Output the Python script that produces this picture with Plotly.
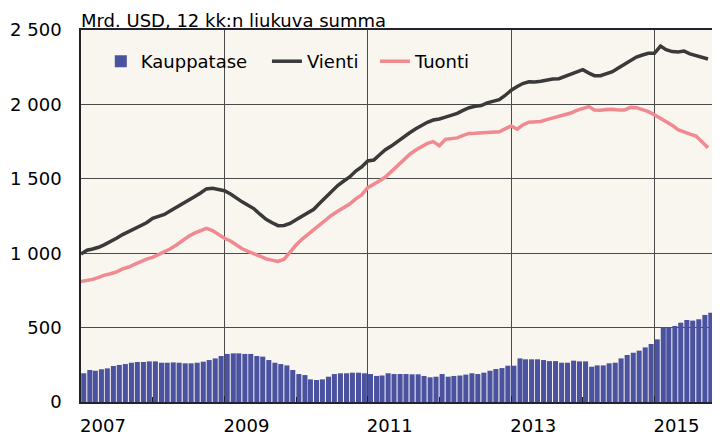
import pandas as pd
import plotly.graph_objects as go

# Monthly data, Jan 2007 .. Oct 2015 (Mrd. USD, 12-month rolling sum)
months = pd.date_range("2007-01-01", periods=106, freq="MS")

vienti = [
    995, 1020, 1028, 1040, 1058, 1077, 1100, 1125, 1145, 1165, 1185, 1205,
    1235, 1248, 1260, 1285, 1310, 1330, 1358, 1380, 1405, 1432, 1436, 1430,
    1420, 1398, 1370, 1345, 1322, 1298, 1262, 1228, 1205, 1185, 1186, 1200,
    1225, 1250, 1268, 1295, 1335, 1375, 1418, 1455, 1485, 1512, 1552, 1580,
    1620, 1626, 1660, 1695, 1720, 1750, 1783, 1808, 1835, 1858, 1880, 1895,
    1902, 1915, 1928, 1940, 1960, 1978, 1987, 1992, 2010, 2023, 2032, 2060,
    2095, 2120, 2140, 2152, 2150, 2155, 2163, 2170, 2173, 2188, 2203, 2220,
    2233, 2210, 2193, 2193, 2205, 2220, 2245, 2268, 2295, 2318, 2332, 2343,
    2343, 2392, 2368, 2355, 2352, 2358, 2340, 2328, 2318, 2305,
]

tuonti = [
    810, 815, 824, 838, 853, 862, 875, 895, 907, 925, 945, 960,
    972, 990, 1008, 1030, 1055, 1085, 1112, 1135, 1152, 1167, 1152, 1125,
    1100, 1082, 1055, 1030, 1012, 998, 980, 962, 952, 945, 960, 1010,
    1055, 1095, 1125, 1160, 1190, 1225, 1255, 1282, 1308, 1330, 1365, 1392,
    1440, 1462, 1485, 1512, 1550, 1590, 1630, 1662, 1692, 1718, 1738, 1750,
    1722, 1765, 1770, 1775, 1792, 1805, 1806, 1808, 1812, 1814, 1816, 1835,
    1855, 1833, 1862, 1880, 1880, 1885, 1898, 1910, 1918, 1930, 1942, 1960,
    1975, 1985, 1962, 1960, 1965, 1967, 1963, 1962, 1980, 1978, 1965, 1951,
    1930, 1906, 1885, 1860, 1830, 1812, 1800, 1788, 1750, 1709,
]

kauppatase = [
    193, 215, 210, 220, 226, 242, 249, 255, 264, 269, 269, 273,
    273, 264, 264, 266, 264, 260, 260, 264, 271, 282, 293, 309,
    323, 327, 327, 323, 323, 309, 305, 282, 264, 255, 246, 215,
    188, 181, 152, 148, 152, 170, 188, 193, 193, 197, 197, 193,
    188, 175, 178, 193, 188, 188, 188, 186, 186, 175, 166, 170,
    188, 170, 175, 178, 184, 193, 188, 197, 210, 222, 228, 244,
    244, 293, 287, 287, 287, 282, 275, 275, 264, 264, 278, 273,
    273, 237, 246, 246, 260, 264, 293, 316, 331, 345, 367, 390,
    421, 502, 502, 511, 533, 551, 547, 556, 585, 600,
]

y_tickvals = [0, 500, 1000, 1500, 2000, 2500]
y_ticktext = ["0", "500", "1 000", "1 500", "2 000", "2 500"]

BG = "#f9f5ef"
FONT = "DejaVu Sans"

# page is rendered with an 8px body margin: size the figure to fit
W, H = 712, 431

bar_x = months + pd.Timedelta(days=14)

fig = go.Figure()
fig.add_trace(go.Bar(x=bar_x, y=kauppatase, name="Kauppatase", legend="legend",
                     marker=dict(color="#4b53a1", line=dict(width=0))))
fig.add_trace(go.Scatter(x=months, y=vienti, name="Vienti", mode="lines",
                         legend="legend2",
                         line=dict(color="#3a3a3a", width=3.5)))
fig.add_trace(go.Scatter(x=months, y=tuonti, name="Tuonti", mode="lines",
                         legend="legend3",
                         line=dict(color="#f08a90", width=3.5)))

leg_common = dict(orientation="h", y=0.965, xanchor="left", yanchor="top",
                  bgcolor="rgba(0,0,0,0)", font=dict(size=18, family=FONT),
                  itemwidth=30)

fig.update_layout(
    width=W, height=H,
    margin=dict(l=73, r=0, t=22, b=37, autoexpand=False),
    paper_bgcolor="white",
    plot_bgcolor=BG,
    font=dict(family=FONT, size=18, color="black"),
    bargap=0.08,
    showlegend=True,
    legend=dict(x=0.031, **leg_common),
    legend2=dict(x=0.291, **leg_common),
    legend3=dict(x=0.460, **leg_common),
    title=dict(text="Mrd. USD, 12 kk:n liukuva summa", x=0, xref="paper",
               xanchor="left", y=1 - 13 / H, yanchor="middle",
               font=dict(size=18, family=FONT, color="black"), pad=dict(l=0)),
    shapes=[dict(type="rect", xref="paper", yref="paper", x0=0, x1=0.6,
                 y0=0.836, y1=1, fillcolor=BG, line=dict(width=0),
                 layer="between")],
)

fig.update_xaxes(
    type="date",
    range=["2007-01-01", "2015-12-01"],
    tick0="2007-01-01", dtick="M24",
    tickformat="%Y",
    ticks="inside", ticklen=6, tickcolor="#222",
    ticklabelshift=22, ticklabelstandoff=6,
    showgrid=True, gridcolor="#4a4a4a", gridwidth=1,
    minor=dict(dtick="M12", tick0="2007-01-01", ticks="inside", ticklen=5,
               tickcolor="#222", showgrid=False),
    showline=True, linecolor="#222233", linewidth=2, mirror=True,
    zeroline=False, automargin=False,
)
fig.update_yaxes(
    range=[0, 2500],
    tickvals=y_tickvals, ticktext=y_ticktext,
    ticks="", ticklabelstandoff=14,
    showgrid=True, gridcolor="#4a4a4a", gridwidth=1,
    showline=True, linecolor="#222", linewidth=1.5,
    zeroline=False, automargin=False,
)

fig.write_html("out.html")
